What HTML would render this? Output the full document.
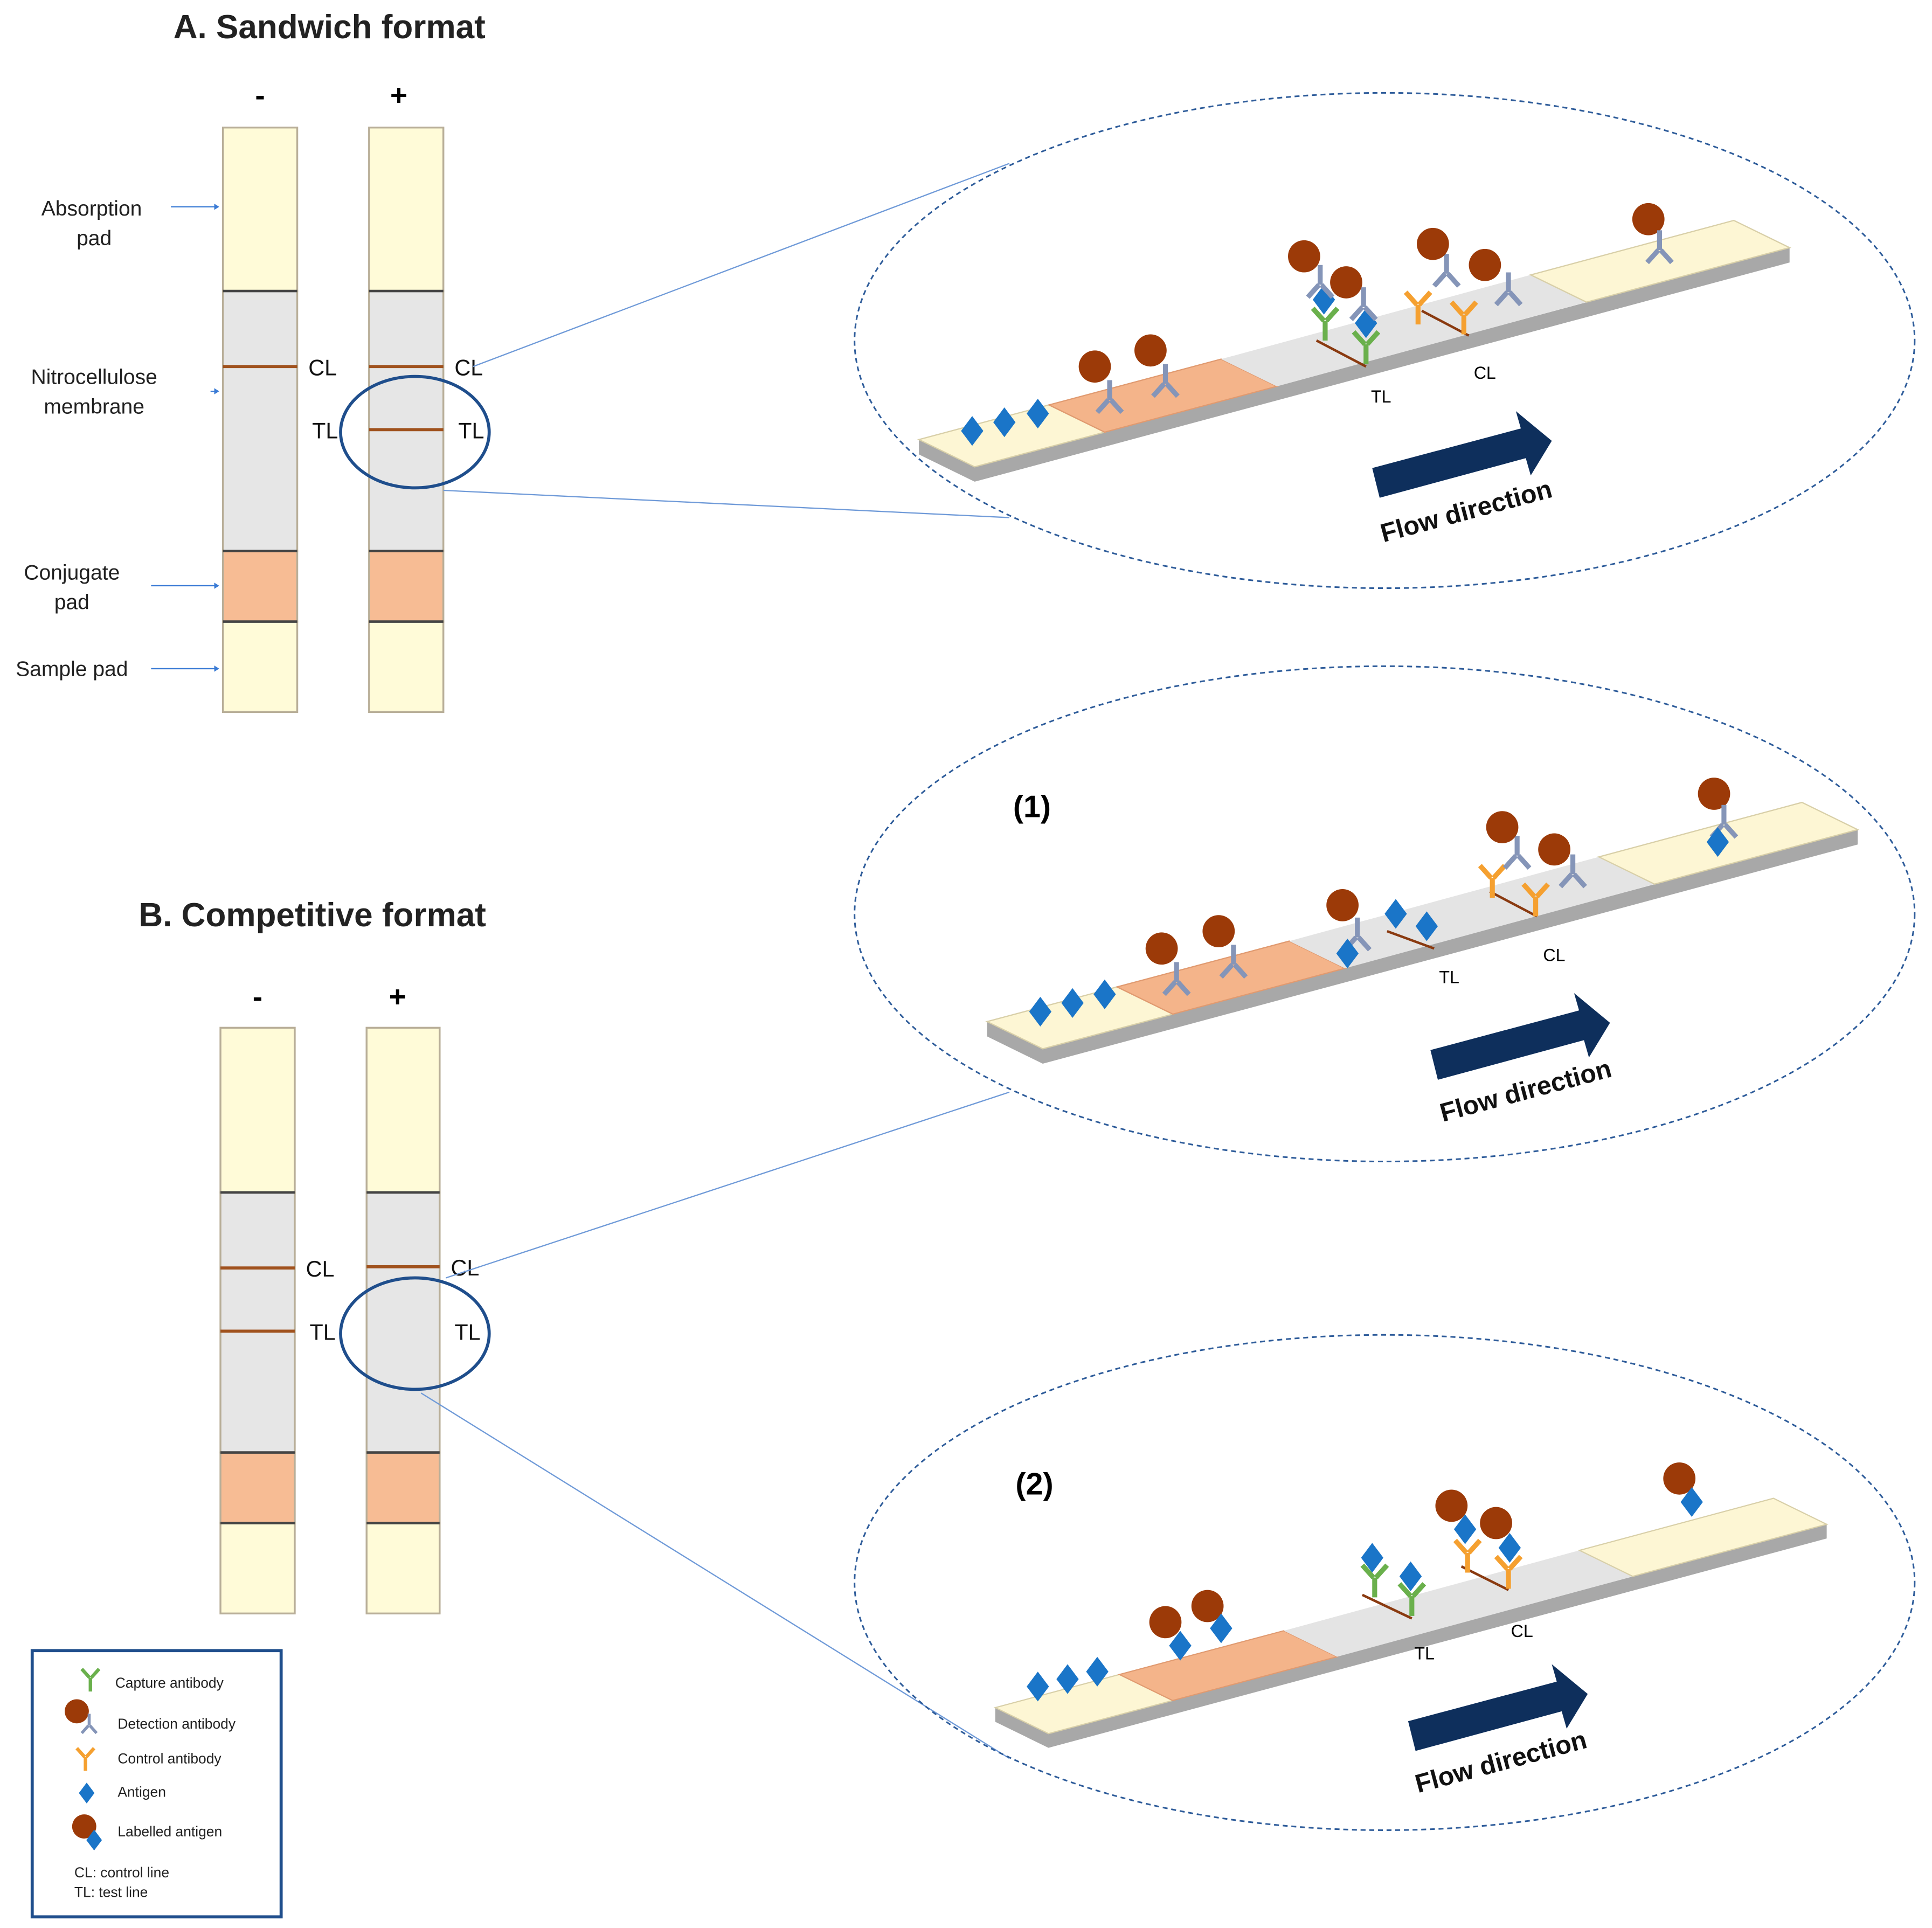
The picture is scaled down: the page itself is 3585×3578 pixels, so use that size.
<!DOCTYPE html>
<html><head><meta charset="utf-8"><style>
html,body{margin:0;padding:0;background:#fff;}
svg{display:block;}
text{font-family:"Liberation Sans",sans-serif;}
</style></head><body>
<svg width="3585" height="3578" viewBox="0 0 1560 1557" preserveAspectRatio="none" xmlns="http://www.w3.org/2000/svg">
<defs>
<g id="abG"><path d="M0,0 L0,-16 M-1,-16 L-10,-26 M1,-16 L10,-26" stroke="#6ab04c" stroke-width="4" fill="none"/></g>
<g id="abB"><path d="M0,0 L0,-16 M-1,-16 L-10,-26 M1,-16 L10,-26" stroke="#8595b8" stroke-width="4" fill="none"/></g>
<g id="abO"><path d="M0,0 L0,-16 M-1,-16 L-10,-26 M1,-16 L10,-26" stroke="#f5a030" stroke-width="4" fill="none"/></g>
<g id="abD"><path d="M0,0 L0,16 M-1,16 L-10,26 M1,16 L10,26" stroke="#8595b8" stroke-width="4" fill="none"/></g>
<g id="ball"><circle r="13" fill="#9c3a08"/></g>
<g id="dia"><path d="M0,-12 L9,0 L0,12 L-9,0Z" fill="#1a75c8"/></g>
<g id="strip">
<path d="M742,355 L787,377 L1445,200 L1445,212 L787,389 L742,367Z" fill="#a8a8a8"/>
<path d="M742,355 L847,327 L892,349 L787,377Z" fill="#fdf6d4" stroke="#d8cfa8"/>
<path d="M847,327 L986,290 L1031,312 L892,349Z" fill="#f4b48a" stroke="#e09a70"/>
<path d="M986,290 L1236,222 L1281,244 L1031,312Z" fill="#e4e4e4"/>
<path d="M1236,222 L1400,178 L1445,200 L1281,244Z" fill="#fdf6d4" stroke="#d8cfa8"/>
</g>
<g id="arrow"><path d="M0,0 L120,-32 L116,-46 L145,-22 L128,6 L124,-8 L6,24Z" fill="#0e2f5c"/></g>
</defs>

<!-- Titles -->
<text x="140" y="31" font-size="27" font-weight="bold" fill="#222">A. Sandwich format</text>
<text x="112" y="748" font-size="27" font-weight="bold" fill="#222">B. Competitive format</text>

<!-- A strips -->
<text x="210" y="85" font-size="24" font-weight="bold" text-anchor="middle">-</text>
<text x="322" y="85" font-size="24" font-weight="bold" text-anchor="middle">+</text>
<g stroke="#b8ae98" stroke-width="1.5">
<rect x="180" y="103" width="60" height="132" fill="#fffbd8"/><rect x="180" y="235" width="60" height="210" fill="#e6e6e6"/>
<rect x="180" y="445" width="60" height="57" fill="#f7bc94"/><rect x="180" y="502" width="60" height="73" fill="#fffbd8"/>
<rect x="298" y="103" width="60" height="132" fill="#fffbd8"/><rect x="298" y="235" width="60" height="210" fill="#e6e6e6"/>
<rect x="298" y="445" width="60" height="57" fill="#f7bc94"/><rect x="298" y="502" width="60" height="73" fill="#fffbd8"/>
</g>
<g stroke="#444" stroke-width="2"><line x1="180" y1="235" x2="240" y2="235"/><line x1="298" y1="235" x2="358" y2="235"/><line x1="180" y1="445" x2="240" y2="445"/><line x1="298" y1="445" x2="358" y2="445"/><line x1="180" y1="502" x2="240" y2="502"/><line x1="298" y1="502" x2="358" y2="502"/></g>
<g stroke="#a0521e" stroke-width="2.5"><line x1="180" y1="296" x2="240" y2="296"/><line x1="298" y1="296" x2="358" y2="296"/><line x1="298" y1="347" x2="358" y2="347"/></g>
<g font-size="18" fill="#111"><text x="249" y="303">CL</text><text x="367" y="303">CL</text><text x="252" y="354">TL</text><text x="370" y="354">TL</text></g>
<g font-size="17" fill="#222" text-anchor="middle">
<text x="74" y="174">Absorption</text><text x="76" y="198">pad</text>
<text x="76" y="310">Nitrocellulose</text><text x="76" y="334">membrane</text>
<text x="58" y="468">Conjugate</text><text x="58" y="492">pad</text>
<text x="58" y="546">Sample pad</text></g>
<g stroke="#3a7bd5" stroke-width="1"><line x1="138" y1="167" x2="175" y2="167"/><line x1="170" y1="316" x2="175" y2="316"/><line x1="122" y1="473" x2="175" y2="473"/><line x1="122" y1="540" x2="175" y2="540"/></g>
<g fill="#3a7bd5"><path d="M177,167 l-4,-2.5 v5z"/><path d="M177,316 l-4,-2.5 v5z"/><path d="M177,473 l-4,-2.5 v5z"/><path d="M177,540 l-4,-2.5 v5z"/></g>
<ellipse cx="335" cy="349" rx="60" ry="45" fill="none" stroke="#1f4e8c" stroke-width="2.5"/>
<g stroke="#6f9ad8" stroke-width="1"><line x1="382" y1="296" x2="815" y2="132"/><line x1="358" y1="396" x2="815" y2="418"/></g>
<ellipse cx="1118" cy="275" rx="428" ry="200" fill="none" stroke="#2e5c9a" stroke-width="1.3" stroke-dasharray="4,3"/>

<!-- A detail -->
<use href="#strip"/>
<use href="#dia" x="785" y="348"/><use href="#dia" x="811" y="341"/><use href="#dia" x="838" y="334"/>
<use href="#ball" x="884" y="296"/><use href="#abD" x="896" y="307"/>
<use href="#ball" x="929" y="283"/><use href="#abD" x="941" y="294"/>
<line x1="1063" y1="275" x2="1103" y2="296" stroke="#8a3a10" stroke-width="2"/>
<line x1="1148" y1="251" x2="1186" y2="271" stroke="#8a3a10" stroke-width="2"/>
<use href="#abG" x="1070" y="275"/><use href="#abG" x="1103" y="294"/>
<use href="#dia" x="1069" y="242"/><use href="#dia" x="1103" y="261"/>
<use href="#abD" x="1066" y="214"/><use href="#abD" x="1101" y="232"/>
<use href="#ball" x="1053" y="207"/><use href="#ball" x="1087" y="228"/>
<use href="#abO" x="1145" y="262"/><use href="#abO" x="1182" y="270"/>
<use href="#abD" x="1168" y="205"/><use href="#abD" x="1218" y="220"/>
<use href="#ball" x="1157" y="197"/><use href="#ball" x="1199" y="214"/>
<use href="#ball" x="1331" y="177"/><use href="#abD" x="1340" y="186"/>
<text x="1107" y="325" font-size="14">TL</text><text x="1190" y="306" font-size="14">CL</text>
<use href="#arrow" transform="translate(1108,378)"/>
<text x="0" y="0" font-size="21" font-weight="bold" fill="#111" transform="translate(1117,438) rotate(-15)">Flow direction</text>

<!-- B strips -->
<text x="208" y="813" font-size="24" font-weight="bold" text-anchor="middle">-</text>
<text x="321" y="813" font-size="24" font-weight="bold" text-anchor="middle">+</text>
<g stroke="#b8ae98" stroke-width="1.5">
<rect x="178" y="830" width="60" height="133" fill="#fffbd8"/><rect x="178" y="963" width="60" height="210" fill="#e6e6e6"/>
<rect x="178" y="1173" width="60" height="57" fill="#f7bc94"/><rect x="178" y="1230" width="60" height="73" fill="#fffbd8"/>
<rect x="296" y="830" width="59" height="133" fill="#fffbd8"/><rect x="296" y="963" width="59" height="210" fill="#e6e6e6"/>
<rect x="296" y="1173" width="59" height="57" fill="#f7bc94"/><rect x="296" y="1230" width="59" height="73" fill="#fffbd8"/>
</g>
<g stroke="#444" stroke-width="2"><line x1="178" y1="963" x2="238" y2="963"/><line x1="296" y1="963" x2="355" y2="963"/><line x1="178" y1="1173" x2="238" y2="1173"/><line x1="296" y1="1173" x2="355" y2="1173"/><line x1="178" y1="1230" x2="238" y2="1230"/><line x1="296" y1="1230" x2="355" y2="1230"/></g>
<g stroke="#a0521e" stroke-width="2.5"><line x1="178" y1="1024" x2="238" y2="1024"/><line x1="178" y1="1075" x2="238" y2="1075"/><line x1="296" y1="1023" x2="355" y2="1023"/></g>
<g font-size="18" fill="#111"><text x="247" y="1031">CL</text><text x="364" y="1030">CL</text><text x="250" y="1082">TL</text><text x="367" y="1082">TL</text></g>
<ellipse cx="335" cy="1077" rx="60" ry="45" fill="none" stroke="#1f4e8c" stroke-width="2.5"/>
<g stroke="#6f9ad8" stroke-width="1"><line x1="360" y1="1032" x2="815" y2="882"/><line x1="340" y1="1125" x2="815" y2="1420"/></g>
<ellipse cx="1118" cy="738" rx="428" ry="200" fill="none" stroke="#2e5c9a" stroke-width="1.3" stroke-dasharray="4,3"/>
<ellipse cx="1118" cy="1278" rx="428" ry="200" fill="none" stroke="#2e5c9a" stroke-width="1.3" stroke-dasharray="4,3"/>

<!-- B1 -->
<text x="818" y="660" font-size="25" font-weight="bold">(1)</text>
<use href="#strip" transform="translate(55,470)"/>
<use href="#dia" x="840" y="817"/><use href="#dia" x="866" y="810"/><use href="#dia" x="892" y="803"/>
<use href="#ball" x="938" y="766"/><use href="#abD" x="950" y="777"/>
<use href="#ball" x="984" y="752"/><use href="#abD" x="996" y="763"/>
<use href="#ball" x="1084" y="731"/><use href="#abD" x="1096" y="741"/><use href="#dia" x="1088" y="770"/>
<use href="#dia" x="1127" y="738"/><use href="#dia" x="1152" y="748"/>
<line x1="1120" y1="752" x2="1158" y2="766" stroke="#8a3a10" stroke-width="2"/>
<line x1="1203" y1="720" x2="1241" y2="740" stroke="#8a3a10" stroke-width="2"/>
<use href="#abO" x="1205" y="725"/><use href="#abO" x="1240" y="740"/>
<use href="#abD" x="1225" y="675"/><use href="#abD" x="1270" y="690"/>
<use href="#ball" x="1213" y="668"/><use href="#ball" x="1255" y="686"/>
<use href="#ball" x="1384" y="641"/><use href="#abD" x="1392" y="650"/><use href="#dia" x="1387" y="680"/>
<text x="1162" y="794" font-size="14">TL</text><text x="1246" y="776" font-size="14">CL</text>
<use href="#arrow" transform="translate(1155,848)"/>
<text x="0" y="0" font-size="21" font-weight="bold" fill="#111" transform="translate(1165,906) rotate(-15)">Flow direction</text>

<!-- B2 -->
<text x="820" y="1207" font-size="25" font-weight="bold">(2)</text>
<use href="#strip" transform="translate(95,1040) scale(0.955)"/>
<use href="#dia" x="838" y="1362"/><use href="#dia" x="862" y="1356"/><use href="#dia" x="886" y="1350"/>
<use href="#ball" x="941" y="1310"/><use href="#dia" x="953" y="1329"/>
<use href="#ball" x="975" y="1297"/><use href="#dia" x="986" y="1315"/>
<line x1="1100" y1="1288" x2="1140" y2="1307" stroke="#8a3a10" stroke-width="2"/>
<line x1="1180" y1="1265" x2="1218" y2="1284" stroke="#8a3a10" stroke-width="2"/>
<use href="#abG" x="1110" y="1290"/><use href="#abG" x="1140" y="1305"/>
<use href="#dia" x="1108" y="1258"/><use href="#dia" x="1139" y="1273"/>
<use href="#abO" x="1185" y="1270"/><use href="#abO" x="1218" y="1283"/>
<use href="#dia" x="1183" y="1235"/><use href="#dia" x="1219" y="1250"/>
<use href="#ball" x="1172" y="1216"/><use href="#ball" x="1208" y="1230"/>
<use href="#ball" x="1356" y="1194"/><use href="#dia" x="1366" y="1213"/>
<text x="1142" y="1340" font-size="14">TL</text><text x="1220" y="1322" font-size="14">CL</text>
<use href="#arrow" transform="translate(1137,1390)"/>
<text x="0" y="0" font-size="21" font-weight="bold" fill="#111" transform="translate(1145,1448) rotate(-15)">Flow direction</text>

<!-- Legend -->
<rect x="26" y="1333" width="201" height="215" fill="#fff" stroke="#1f4e8c" stroke-width="2.5"/>
<use href="#abG" transform="translate(73,1366) scale(0.7)"/>
<use href="#ball" transform="translate(62,1382) scale(0.75)"/><use href="#abD" transform="translate(72,1384) scale(0.6)"/>
<use href="#abO" transform="translate(69,1430) scale(0.7)"/>
<use href="#dia" transform="translate(70,1448) scale(0.7)"/>
<use href="#ball" transform="translate(68,1475) scale(0.75)"/><use href="#dia" transform="translate(76,1486) scale(0.7)"/>
<g font-size="11.5" fill="#222">
<text x="93" y="1363">Capture antibody</text>
<text x="95" y="1396">Detection antibody</text>
<text x="95" y="1424">Control antibody</text>
<text x="95" y="1451">Antigen</text>
<text x="95" y="1483">Labelled antigen</text>
<text x="60" y="1516">CL: control line</text>
<text x="60" y="1532">TL: test line</text></g>
</svg>
</body></html>
